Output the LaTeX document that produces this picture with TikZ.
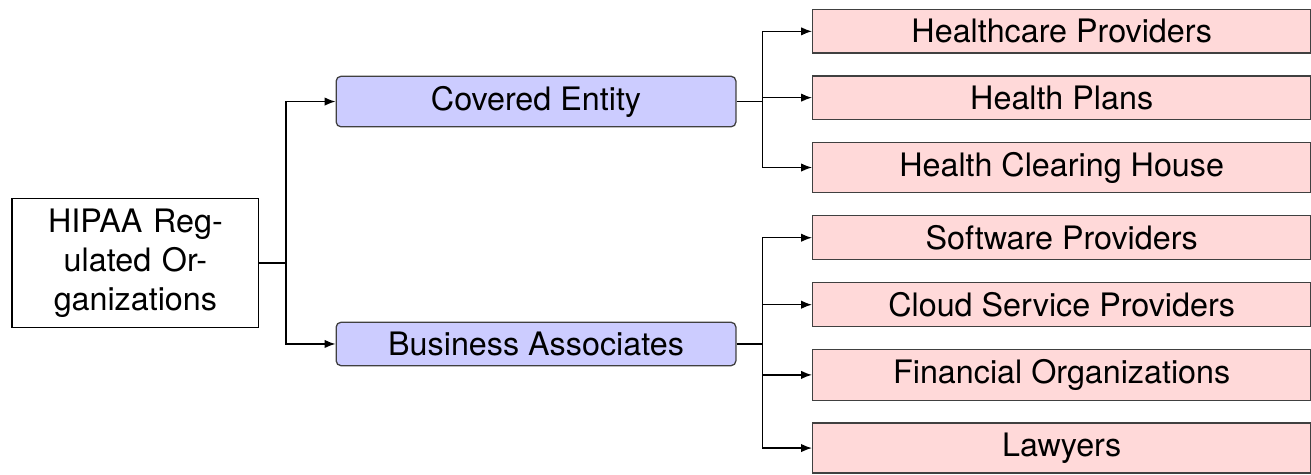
\documentclass[tikz,border=0pt]{standalone}
\usepackage{fontspec}
\setmainfont{TeX Gyre Heros}
\usetikzlibrary{positioning, arrows.meta}
\definecolor{softblue}{RGB}{204,204,255}
\definecolor{softred}{RGB}{255,217,217}

\begin{document}
\begin{tikzpicture}[
    node distance=0.235cm,
    every node/.style={font=\normalsize},
    rootbox/.style={
        rectangle,
        draw=black,
        align=center,
        text width=2.45cm
    },
    groupbox/.style={
        rectangle,
        rounded corners=1.5pt,
        draw=black!75,
        fill=softblue,
        inner ysep=3pt,
        minimum width=4.35cm
    },
    leafbox/.style={
        rectangle,
        draw=black!75,
        fill=softred,
        inner ysep=3pt,
        minimum width=5.42cm
    },
    arrow/.style={-{Latex[length=3.4pt, width=2.6pt]}}
]
\useasboundingbox (0,0) rectangle (14.266,-5.158);

\node[rootbox] (root) at (1.474,-2.862) {HIPAA Reg-\\ulated Or-\\ganizations};
\node[groupbox] (covered) at (5.833,-1.105) {Covered Entity};
\node[groupbox] (business) at (5.833,-3.743) {Business Associates};

\node[leafbox, anchor=north west] (providers) at (8.836,-0.098) {Healthcare Providers};
\node[leafbox, below=of providers] (plans) {Health Plans};
\node[leafbox, below=of plans] (clearing) {Health Clearing House};
\node[leafbox, below=of clearing] (software) {Software Providers};
\node[leafbox, below=of software] (cloud) {Cloud Service Providers};
\node[leafbox, below=of cloud] (financial) {Financial Organizations};
\node[leafbox, below=of financial] (lawyers) {Lawyers};

\coordinate (rootfork) at ([xshift=0.29cm]root.east);
\coordinate (coveredfork) at ([xshift=0.28cm]covered.east);
\coordinate (businessfork) at ([xshift=0.28cm]business.east);

\draw (root.east) -- (rootfork);
\draw[arrow] (rootfork) |- (covered.west);
\draw[arrow] (rootfork) |- (business.west);

\draw (covered.east) -- (coveredfork);
\draw[arrow] (coveredfork) |- (providers.west);
\draw[arrow] (coveredfork) |- (plans.west);
\draw[arrow] (coveredfork) |- (clearing.west);

\draw (business.east) -- (businessfork);
\draw[arrow] (businessfork) |- (software.west);
\draw[arrow] (businessfork) |- (cloud.west);
\draw[arrow] (businessfork) |- (financial.west);
\draw[arrow] (businessfork) |- (lawyers.west);

\end{tikzpicture}
\end{document}
